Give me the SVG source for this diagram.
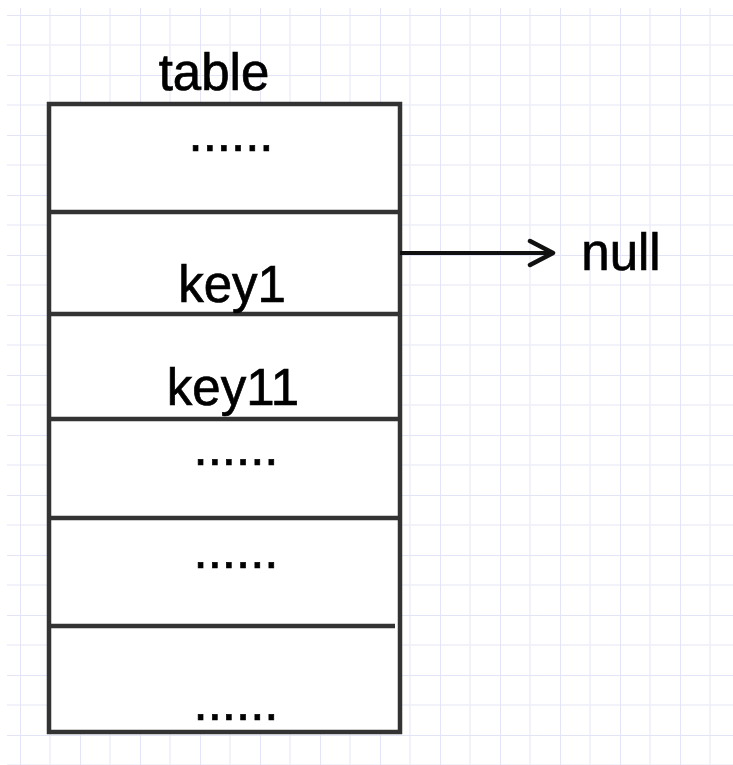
<svg xmlns="http://www.w3.org/2000/svg" width="733" height="765" viewBox="0 0 733 765">
  <defs>
    <pattern id="grid" x="20" y="15" width="60" height="60" patternUnits="userSpaceOnUse">
      <path d="M30 0V60M0 30H60" stroke="#eeeefa" stroke-width="1.5" fill="none"/>
      <path d="M0 0V60M0 0H60" stroke="#e4e4f7" stroke-width="2" fill="none"/>
    </pattern>
    <marker id="chevron" viewBox="0 0 30 30" refX="26" refY="15" markerWidth="30" markerHeight="30" markerUnits="userSpaceOnUse" orient="auto">
      <path d="M3 3L26 15L3 27" fill="none" stroke="#111" stroke-width="4.5" stroke-linecap="round" stroke-linejoin="round"/>
    </marker>
  </defs>
  <style>
    .cell { fill: #fff; stroke: #333; stroke-width: 4.5; }
    .div { stroke: #333; stroke-width: 4.5; }
    .lbl { font-family: "Liberation Sans", Arial, sans-serif; font-size: 51px; fill: #000; stroke: #000; stroke-width: 0.7; text-anchor: middle; }
    .edge { stroke: #111; stroke-width: 4; fill: none; }
  </style>
  <rect width="733" height="765" fill="#fff"/>
  <rect x="7" y="8" width="726" height="757" fill="url(#grid)"/>

  <text class="lbl" x="214" y="90">table</text>

  <g id="table">
    <rect class="cell" x="49" y="104" width="351" height="628"/>
    <line class="div" x1="49" y1="212" x2="400" y2="212"/>
    <line class="div" x1="49" y1="314" x2="400" y2="314"/>
    <line class="div" x1="49" y1="419" x2="400" y2="419"/>
    <line class="div" x1="49" y1="518" x2="400" y2="518"/>
    <line class="div" x1="49" y1="626" x2="395" y2="626"/>
  </g>
  <g id="row0"><text class="lbl" x="231" y="151">......</text></g>
  <g id="row1"><text class="lbl" x="232" y="302">key1</text></g>
  <g id="row2"><text class="lbl" x="233" y="405">key11</text></g>
  <g id="row3"><text class="lbl" x="236" y="465">......</text></g>
  <g id="row4"><text class="lbl" x="236" y="568">......</text></g>
  <g id="row5"><text class="lbl" x="236" y="720">......</text></g>

  <g id="null"><text class="lbl" x="621" y="270">null</text></g>

  <g id="connectors">
    <line class="edge" x1="400" y1="253" x2="553" y2="253" marker-end="url(#chevron)"/>
  </g>
</svg>
